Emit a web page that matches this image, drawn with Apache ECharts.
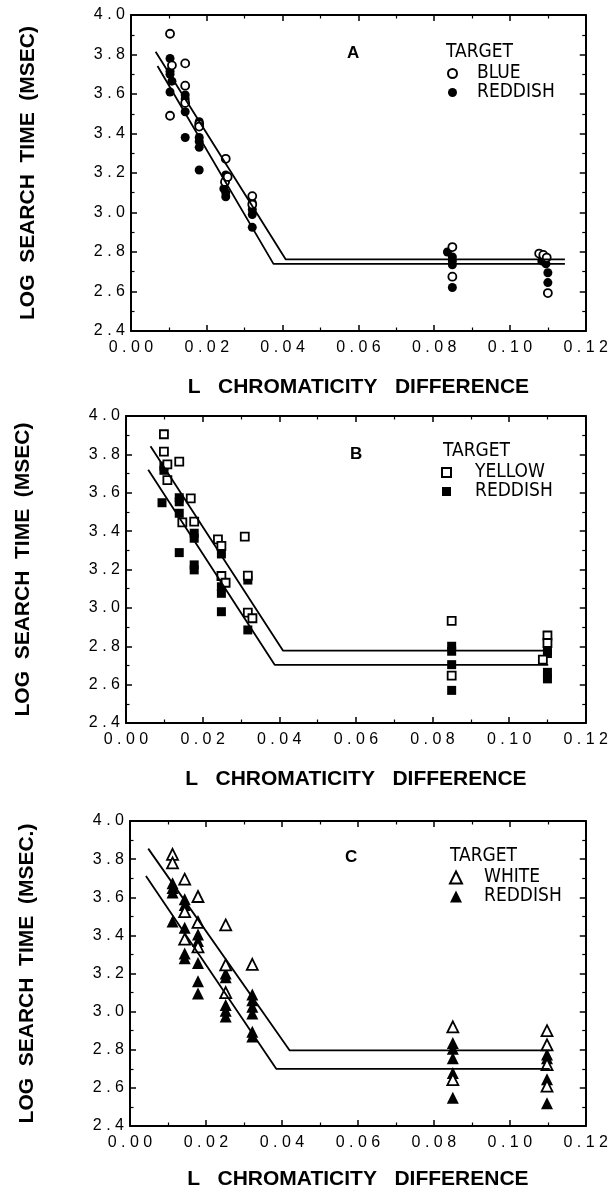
<!DOCTYPE html>
<html>
<head>
<meta charset="utf-8">
<script src="https://cdn.jsdelivr.net/npm/echarts@6/dist/echarts.min.js"></script>
<style>
  html, body { margin: 0; padding: 0; background: #fff; }
  #chart { width: 611px; height: 1191px; }
</style>
</head>
<body>
<div id="chart"></div>
<script>
// ---- panel A : circles ----
const blueA = [
  [0.0103, 3.905], [0.0108, 3.745], [0.0103, 3.49],
  [0.0143, 3.755], [0.0143, 3.642], [0.0143, 3.555],
  [0.018, 3.448], [0.018, 3.435],
  [0.025, 3.272], [0.0248, 3.155], [0.0255, 3.18],
  [0.032, 3.083], [0.032, 3.04],
  [0.0848, 2.825], [0.0848, 2.675],
  [0.1077, 2.792], [0.1088, 2.785], [0.1097, 2.772], [0.11, 2.592]
]
const reddishA = [
  [0.0103, 3.78], [0.0103, 3.715], [0.0103, 3.70], [0.0108, 3.665], [0.0103, 3.61],
  [0.0143, 3.595], [0.0143, 3.575], [0.0143, 3.51], [0.0143, 3.38],
  [0.018, 3.46], [0.018, 3.38], [0.018, 3.36], [0.018, 3.33], [0.018, 3.215],
  [0.025, 3.19], [0.025, 3.165], [0.0245, 3.12], [0.025, 3.10], [0.025, 3.08],
  [0.032, 3.05], [0.032, 3.015], [0.032, 2.99], [0.032, 2.925],
  [0.0835, 2.80], [0.0848, 2.775], [0.0848, 2.755], [0.0848, 2.735], [0.0848, 2.62],
  [0.1084, 2.755], [0.1095, 2.74], [0.11, 2.695], [0.11, 2.645]
]
const fitBlueA = [[0.0065, 3.814], [0.0408, 2.763], [0.1145, 2.763]]
const fitReddishA = [[0.007, 3.742], [0.0376, 2.74], [0.1145, 2.74]]

// ---- panel B : squares ----
const yellowB = [
  [0.0099, 3.905], [0.0099, 3.814], [0.0108, 3.748], [0.0108, 3.666],
  [0.0139, 3.762], [0.0147, 3.446],
  [0.0169, 3.571], [0.0178, 3.449],
  [0.024, 3.357], [0.0249, 3.323], [0.0249, 3.166], [0.026, 3.131],
  [0.031, 3.371], [0.0318, 3.168], [0.0318, 2.975], [0.033, 2.946],
  [0.085, 2.932], [0.085, 2.647],
  [0.11, 2.856], [0.11, 2.817], [0.1088, 2.73]
]
const reddishB = [
  [0.0099, 3.739], [0.0099, 3.717], [0.0094, 3.548],
  [0.0139, 3.574], [0.0139, 3.553], [0.0139, 3.493], [0.0139, 3.288],
  [0.0178, 3.389], [0.0178, 3.363], [0.0178, 3.224], [0.0178, 3.198],
  [0.0249, 3.281], [0.0249, 3.11], [0.0249, 3.076], [0.0249, 2.98],
  [0.0318, 3.145], [0.0318, 2.885],
  [0.085, 2.80], [0.085, 2.774], [0.085, 2.704], [0.085, 2.57],
  [0.11, 2.78], [0.11, 2.762], [0.11, 2.664], [0.11, 2.63]
]
const fitYellowB = [[0.0064, 3.842], [0.041, 2.777], [0.1102, 2.777]]
const fitReddishB = [[0.0058, 3.72], [0.0388, 2.703], [0.1102, 2.703]]

// ---- panel C : triangles ----
const whiteC = [
  [0.0112, 3.825], [0.0112, 3.78], [0.0144, 3.695], [0.0179, 3.604],
  [0.0144, 3.525], [0.0179, 3.468], [0.0252, 3.455], [0.0144, 3.38],
  [0.0179, 3.34], [0.0252, 3.245], [0.0322, 3.248], [0.0252, 3.10],
  [0.085, 2.92], [0.085, 2.643],
  [0.1098, 2.90], [0.1098, 2.826], [0.1098, 2.722], [0.1098, 2.609]
]
const reddishC = [
  [0.0112, 3.674], [0.0112, 3.648], [0.0112, 3.625], [0.0112, 3.473],
  [0.0144, 3.59], [0.0144, 3.56], [0.0144, 3.44], [0.0144, 3.305], [0.0144, 3.28],
  [0.0179, 3.405], [0.0179, 3.37], [0.0179, 3.255], [0.0179, 3.16], [0.0179, 3.095],
  [0.0252, 3.20], [0.0252, 3.18], [0.0252, 3.035], [0.0252, 3.005], [0.0252, 2.975],
  [0.0322, 3.09], [0.0322, 3.06], [0.0322, 3.025], [0.0322, 2.99], [0.0322, 2.895], [0.0322, 2.87],
  [0.085, 2.835], [0.085, 2.805], [0.085, 2.755], [0.085, 2.678], [0.085, 2.548],
  [0.1098, 2.775], [0.1098, 2.755], [0.1098, 2.645], [0.1098, 2.52]
]
const fitWhiteC = [[0.0048, 3.855], [0.042, 2.797], [0.1105, 2.797]]
const fitReddishC = [[0.0042, 3.711], [0.0385, 2.70], [0.1105, 2.70]]

const xTitle = 'L   CHROMATICITY   DIFFERENCE'
const yTitles = ['LOG  SEARCH  TIME  (MSEC)', 'LOG  SEARCH  TIME  (MSEC)', 'LOG  SEARCH  TIME  (MSEC.)']

const font = "'Liberation Sans', Arial, Helvetica, sans-serif"
const narrow = "'Liberation Sans Narrow', 'DejaVu Sans Condensed', 'Liberation Sans', sans-serif"

// one entry per panel (layout only)
const panels = [
  { grid: { left: 131, top: 15, width: 461, height: 316 }, letter: 'A', letterPos: [347, 45], targetPos: [446, 43], legendPos: [447, 64], textGap: 15, xGap: 46,
    symbol: 'circle', size: 8, open: ['A-BLUE', blueA], fill: ['A-REDDISH', reddishA], fits: [fitBlueA, fitReddishA] },
  { grid: { left: 126, top: 416, width: 461, height: 307 }, letter: 'B', letterPos: [350, 446], targetPos: [443, 442], legendPos: [441, 463], textGap: 19, xGap: 46,
    symbol: 'rect', size: 8, open: ['B-YELLOW', yellowB], fill: ['B-REDDISH', reddishB], fits: [fitYellowB, fitReddishB] },
  { grid: { left: 130, top: 821, width: 457, height: 306 }, letter: 'C', letterPos: [345, 849], targetPos: [450, 847], legendPos: [449, 868], textGap: 17, xGap: 43,
    symbol: 'triangle', size: 11, open: ['C-WHITE', whiteC], fill: ['C-REDDISH', reddishC], fits: [fitWhiteC, fitReddishC] }
]

const spaced = (v, d) => v.toFixed(d).split('').join(' ')

const tickCommon = {
  axisLine: { show: true, onZero: false, lineStyle: { color: '#000', width: 2 } },
  axisTick: { show: true, inside: true, length: 6, lineStyle: { color: '#000', width: 1.5 } },
  minorTick: { show: true, splitNumber: 2, length: 3.5, lineStyle: { color: '#000', width: 1.2 } },
  splitLine: { show: false },
  minorSplitLine: { show: false }
}

const xAxis = []
const yAxis = []
panels.forEach((p, i) => {
  xAxis.push({
    type: 'value', gridIndex: i, position: 'bottom', min: 0, max: 0.12, interval: 0.02, ...tickCommon,
    axisLabel: { formatter: v => spaced(v, 2), fontFamily: font, fontSize: 16, color: '#000', margin: 9 },
    name: xTitle, nameLocation: 'middle', nameGap: p.xGap,
    nameTextStyle: { fontFamily: font, fontSize: 21, fontWeight: 'bold', color: '#000' }
  })
  xAxis.push({
    type: 'value', gridIndex: i, position: 'top', min: 0, max: 0.12, interval: 0.02, ...tickCommon,
    axisLabel: { show: false }
  })
  yAxis.push({
    type: 'value', gridIndex: i, position: 'left', min: 2.4, max: 4.0, interval: 0.2, ...tickCommon,
    axisLabel: { formatter: v => spaced(v, 1), fontFamily: font, fontSize: 16, color: '#000', margin: 6 },
    name: yTitles[i], nameLocation: 'middle', nameRotate: 90, nameGap: 92,
    nameTextStyle: { fontFamily: font, fontSize: 21, fontWeight: 'bold', color: '#000' }
  })
  yAxis.push({
    type: 'value', gridIndex: i, position: 'right', min: 2.4, max: 4.0, interval: 0.2, ...tickCommon,
    axisLabel: { show: false }
  })
})

const series = []
panels.forEach((p, i) => {
  p.fits.forEach(f => series.push({
    type: 'line', xAxisIndex: 2 * i, yAxisIndex: 2 * i, data: f, symbol: 'none', silent: true,
    lineStyle: { color: '#000', width: 1.8 }
  }))
  series.push({
    name: p.fill[0], type: 'scatter', xAxisIndex: 2 * i, yAxisIndex: 2 * i, data: p.fill[1],
    symbol: p.symbol, symbolSize: p.size + 1, itemStyle: { color: '#000', opacity: 1 }
  })
  series.push({
    name: p.open[0], type: 'scatter', xAxisIndex: 2 * i, yAxisIndex: 2 * i, data: p.open[1],
    symbol: p.symbol, symbolSize: p.size, itemStyle: { color: '#fff', borderColor: '#000', borderWidth: 1.8, opacity: 1 }
  })
})

const title = []
panels.forEach(p => {
  title.push({ text: p.letter, left: p.letterPos[0], top: p.letterPos[1], padding: 0,
    textStyle: { fontFamily: font, fontSize: 17, fontWeight: 'bold', color: '#000' } })
  title.push({ text: 'TARGET', left: p.targetPos[0], top: p.targetPos[1], padding: 0,
    textStyle: { fontFamily: narrow, fontSize: 19, fontWeight: 'normal', color: '#000' } })
})

const legend = panels.map(p => ({
  orient: 'vertical', left: p.legendPos[0], top: p.legendPos[1], padding: 0,
  itemWidth: p.size + 1, itemHeight: p.size + 1, itemGap: 0, selectedMode: false,
  data: [p.open[0], p.fill[0]],
  formatter: n => n.split('-')[1],
  textStyle: { fontFamily: narrow, fontSize: 19, lineHeight: 19, color: '#000', padding: [0, 0, 0, p.textGap] }
}))

const chart = echarts.init(document.getElementById('chart'))
chart.setOption({
  animation: false,
  backgroundColor: '#fff',
  grid: panels.map(p => p.grid),
  title,
  legend,
  xAxis,
  yAxis,
  series
})
</script>
</body>
</html>
